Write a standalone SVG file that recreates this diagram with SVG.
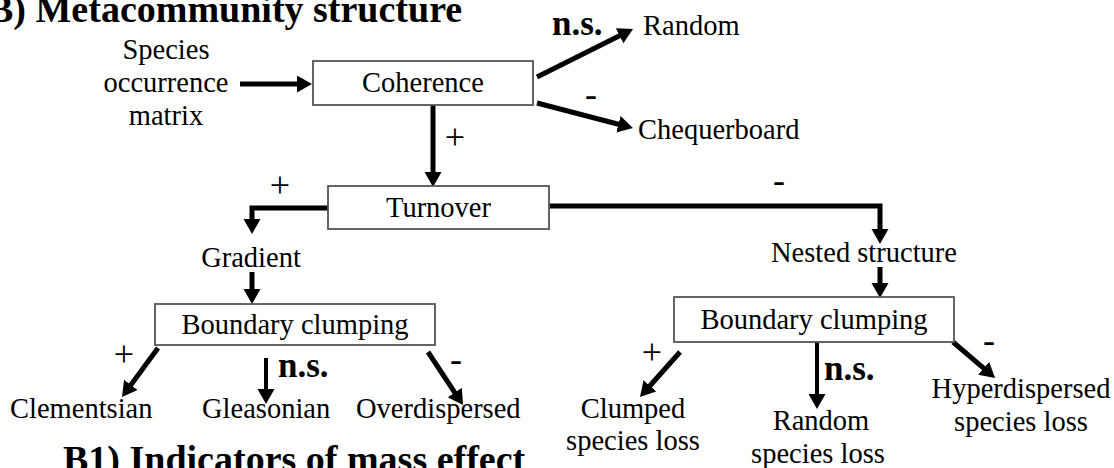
<svg xmlns="http://www.w3.org/2000/svg" width="1114" height="468" viewBox="0 0 1114 468">
<defs>
<marker id="ah" markerUnits="userSpaceOnUse" markerWidth="16" markerHeight="18" refX="1" refY="8.5" orient="auto">
<path d="M0,0 L15,8.5 L0,17 z" fill="#000"/>
</marker>
<style>
.t{font-family:"Liberation Serif","Times New Roman",serif;font-size:28.5px;fill:#000}
.c{text-anchor:middle}
.b{font-family:"Liberation Serif","Times New Roman",serif;font-weight:bold;fill:#000}
.title{font-size:38px}
.ns{font-size:35px}
.sg{font-family:"Liberation Serif","Times New Roman",serif;font-size:36px;fill:#000;text-anchor:middle}
.box{fill:#fff;stroke:#555;stroke-width:1.8}
.ar{fill:none;stroke:#000;stroke-width:5;marker-end:url(#ah)}
.thin{stroke-width:4}
</style>
</defs>
<rect width="1114" height="468" fill="#fff"/>
<text class="b title" x="-12" y="22">B) Metacommunity structure</text>
<text class="b title" x="63" y="472">B1) Indicators of mass effect</text>

<g id="connectors">
<path class="ar" d="M240,84 H298"/>
<path class="ar" d="M537,77 L620.5,35.3"/>
<path class="ar" d="M537,103 L619.4,124.5"/>
<path class="ar" d="M433,105 V173"/>
<path class="ar" d="M328,208 H252 V220"/>
<path class="ar" d="M252,272 V290"/>
<path class="ar" d="M549,206 H880 V230"/>
<path class="ar" d="M880,267 V284"/>
<path class="ar" d="M158,348 L130.3,385.7"/>
<path class="ar thin" d="M266,358 V390"/>
<path class="ar" d="M428,352 L455.3,393.3"/>
<path class="ar" d="M680,352 L649.3,386.5"/>
<path class="ar thin" d="M817,342 V395"/>
<path class="ar" d="M953,342 L984.4,368.9"/>
<text class="b ns" x="552" y="35">n.s.</text>
<text class="sg" x="591" y="106">-</text>
<text class="sg" x="455" y="149">+</text>
<text class="sg" x="280" y="197">+</text>
<text class="sg" x="779" y="192">-</text>
<text class="sg" x="124" y="366">+</text>
<text class="b ns" x="278" y="377">n.s.</text>
<text class="sg" x="456" y="371">-</text>
<text class="sg" x="652" y="364">+</text>
<text class="b ns" x="824" y="380">n.s.</text>
<text class="sg" x="989" y="352">-</text>
</g>

<g id="species-matrix">
<text class="t c" x="166" y="59">Species</text>
<text class="t c" x="166" y="92">occurrence</text>
<text class="t c" x="166" y="125">matrix</text>
</g>
<g id="coherence">
<rect class="box" x="313" y="61" width="220" height="44"/>
<text class="t c" x="423" y="92">Coherence</text>
</g>
<g id="random"><text class="t" x="643" y="35">Random</text></g>
<g id="chequerboard"><text class="t" x="638" y="139">Chequerboard</text></g>
<g id="turnover">
<rect class="box" x="328" y="186" width="221" height="43"/>
<text class="t c" x="438.5" y="217">Turnover</text>
</g>
<g id="gradient"><text class="t c" x="251" y="267">Gradient</text></g>
<g id="nested"><text class="t c" x="864" y="262">Nested structure</text></g>
<g id="bc-left">
<rect class="box" x="155" y="304" width="280" height="41"/>
<text class="t c" x="295" y="334">Boundary clumping</text>
</g>
<g id="bc-right">
<rect class="box" x="674" y="297" width="280" height="45"/>
<text class="t c" x="814" y="329">Boundary clumping</text>
</g>
<g id="clementsian"><text class="t" x="10" y="418">Clementsian</text></g>
<g id="gleasonian"><text class="t" x="202" y="418">Gleasonian</text></g>
<g id="overdispersed"><text class="t" x="356" y="418">Overdispersed</text></g>
<g id="clumped">
<text class="t c" x="633" y="418">Clumped</text>
<text class="t c" x="633" y="450">species loss</text>
</g>
<g id="random-loss">
<text class="t c" x="821" y="430">Random</text>
<text class="t c" x="818" y="463">species loss</text>
</g>
<g id="hyper">
<text class="t c" x="1021" y="398">Hyperdispersed</text>
<text class="t c" x="1021" y="431">species loss</text>
</g>
</svg>
